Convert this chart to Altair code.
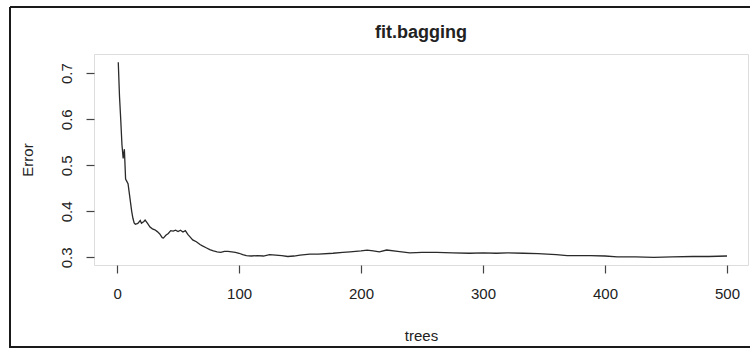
import altair as alt
import pandas as pd

# Out-of-bag error of the bagged ensemble as trees are added
trees = [1, 2, 3, 4, 5, 6, 7, 8, 9, 10, 11, 12, 13, 14, 15, 17, 19, 20, 22, 23,
         25, 27, 29, 31, 33, 35, 37, 38, 40, 42, 44, 46, 48, 50, 52, 54, 56, 58,
         60, 62, 65, 68, 70, 73, 76, 79, 82, 85, 88, 91, 94, 97, 100, 103, 106,
         110, 115, 120, 125, 130, 135, 140, 145, 150, 158, 165, 177, 185, 191,
         200, 205, 210, 215, 221, 230, 240, 250, 262, 275, 289, 300, 311, 320,
         333, 345, 360, 369, 388, 400, 410, 425, 440, 455, 472, 485, 500]
error = [0.724, 0.650, 0.600, 0.545, 0.515, 0.535, 0.470, 0.465, 0.460, 0.440,
         0.420, 0.400, 0.385, 0.375, 0.372, 0.374, 0.380, 0.374, 0.378, 0.381,
         0.374, 0.366, 0.362, 0.360, 0.356, 0.351, 0.343, 0.342, 0.348, 0.352,
         0.358, 0.357, 0.359, 0.356, 0.359, 0.355, 0.358, 0.350, 0.344, 0.338,
         0.334, 0.328, 0.325, 0.321, 0.317, 0.314, 0.312, 0.311, 0.313, 0.313,
         0.312, 0.311, 0.309, 0.306, 0.304, 0.303, 0.304, 0.303, 0.306, 0.305,
         0.304, 0.302, 0.303, 0.305, 0.307, 0.307, 0.309, 0.311, 0.312, 0.314,
         0.316, 0.314, 0.312, 0.316, 0.313, 0.310, 0.311, 0.311, 0.310, 0.309,
         0.310, 0.309, 0.310, 0.309, 0.308, 0.306, 0.304, 0.304, 0.303, 0.301,
         0.301, 0.300, 0.301, 0.302, 0.302, 0.303]

x_ticks = [0, 100, 200, 300, 400, 500]
y_ticks = [0.3, 0.4, 0.5, 0.6, 0.7]
main_title = "fit.bagging"

df = pd.DataFrame({"trees": trees, "Error": error})

FONT = "Liberation Sans"
W, H = 654, 211

line = alt.Chart(df).mark_line(color="#2a2a2a", strokeWidth=1.3).encode(
    x=alt.X(
        "trees:Q",
        scale=alt.Scale(domain=[-18.9, 517.2], nice=False, zero=False),
        axis=alt.Axis(
            values=x_ticks, format="d", grid=False, domain=False,
            tickSize=8, tickColor="#444", tickWidth=1.2,
            labelFont=FONT, labelFontSize=15, labelColor="#222",
            labelPadding=13, labelFlush=False,
            title="trees", titleFont=FONT, titleFontSize=15,
            titleFontWeight="normal", titleColor="#222",
            titleY=70, titleBaseline="middle",
        ),
    ),
    y=alt.Y(
        "Error:Q",
        scale=alt.Scale(domain=[0.2835, 0.7417], nice=False, zero=False),
        axis=alt.Axis(
            values=y_ticks, format=".1f", grid=False, domain=False,
            tickSize=8, tickColor="#444", tickWidth=1.2,
            labelFont=FONT, labelFontSize=15, labelColor="#222",
            labelAngle=-90, labelAlign="center", labelBaseline="bottom",
            labelPadding=12, labelFlush=False,
            title="Error", titleFont=FONT, titleFontSize=15,
            titleFontWeight="normal", titleColor="#222",
            titleAngle=-90, titleAlign="center", titleBaseline="middle",
            titleX=-67, titleY=H / 2,
        ),
    ),
)

# Main title, centred over the plot area
edge = pd.DataFrame({"label": [main_title]})
title = alt.Chart(edge).mark_text(
    font=FONT, fontSize=18, fontWeight="bold", color="#222",
    align="center", baseline="middle",
).encode(x=alt.value(W / 2), y=alt.value(-21), text="label:N")

# Figure frame drawn around everything
frame_top = alt.Chart(edge).mark_rule(color="#1a1a1a", strokeWidth=2).encode(
    x=alt.value(-84), x2=alt.value(660), y=alt.value(-47))
frame_left = alt.Chart(edge).mark_rule(color="#1a1a1a", strokeWidth=2).encode(
    x=alt.value(-84), y=alt.value(-47), y2=alt.value(294))
frame_bottom = alt.Chart(edge).mark_rule(color="#1a1a1a", strokeWidth=2).encode(
    x=alt.value(-84), x2=alt.value(660), y=alt.value(293))

chart = (
    alt.layer(line, title, frame_top, frame_left, frame_bottom)
    .properties(
        width=W, height=H,
        autosize=alt.AutoSizeParams(type="none"),
        padding={"left": 94, "top": 54, "right": 2, "bottom": 85},
    )
    .configure_view(stroke="#555", strokeWidth=1.3)
    .configure(background="white")
)

chart.save("out.html", embed_options={"renderer": "svg", "actions": False})
